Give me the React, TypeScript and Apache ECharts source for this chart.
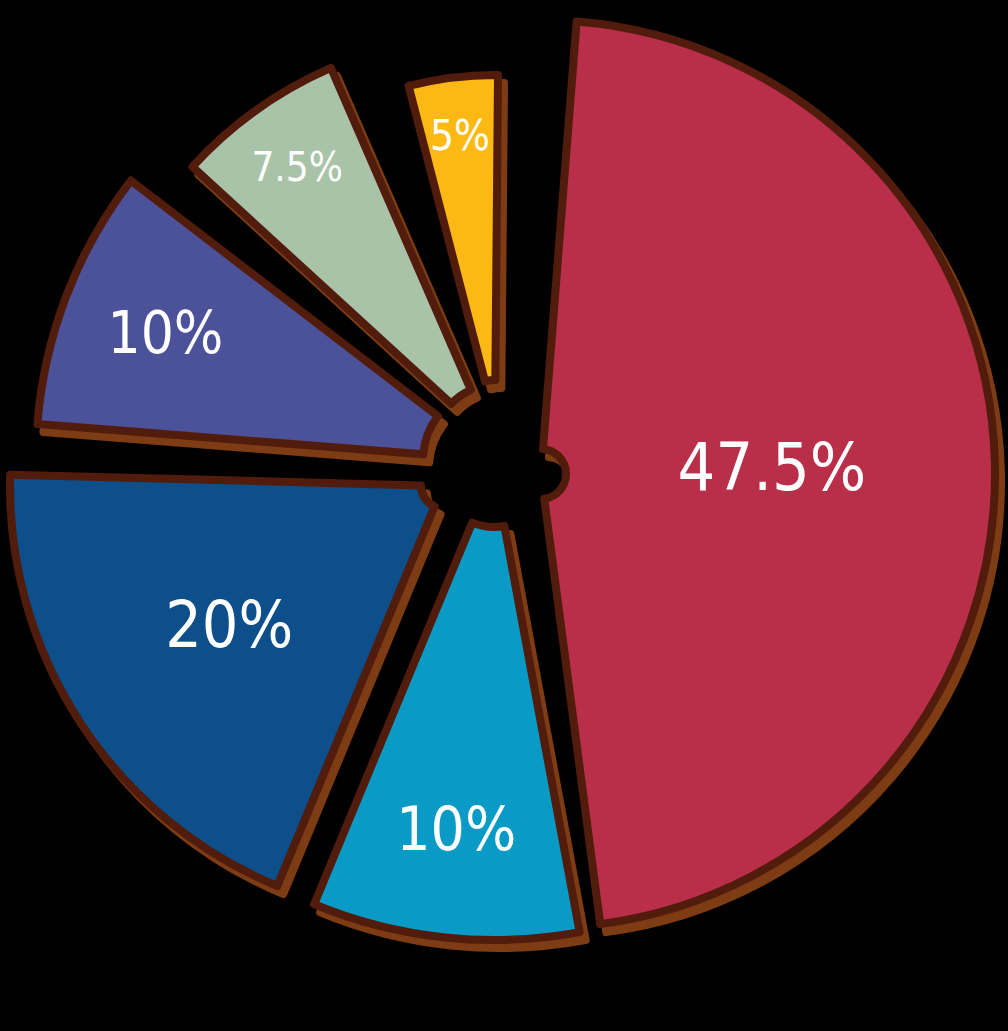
import React, { useEffect, useRef } from "react";
import * as echarts from "echarts";

// ---- data ----
const categories = ["Slice A", "Slice B", "Slice C", "Slice D", "Slice E", "Slice F"];
const values = [47.5, 10, 20, 10, 7.5, 5];
const colors = ["#B92E49", "#099BC5", "#0C4F8B", "#4C5299", "#A8C3A7", "#FDB913"];

// ---- hand-drawn look: per-slice apex, radii, small rotation tweak, label radius, font size ----
const sliceLayout = [
  { cx: 541, cy: 474, r0: 25, r: 454, rot: 1, lr: 228, fs: 66 },
  { cx: 494, cy: 470, r0: 57, r: 470, rot: -5, lr: 358, fs: 60 },
  { cx: 443, cy: 486, r0: 22, r: 433, rot: -8, lr: 252, fs: 64 },
  { cx: 495, cy: 460, r0: 72, r: 459, rot: -8, lr: 350, fs: 58 },
  { cx: 494, cy: 443, r0: 58, r: 409, rot: -6, lr: 336, fs: 40 },
  { cx: 495, cy: 420, r0: 40, r: 345, rot: 0, lr: 284, fs: 42 },
];

const START_ANGLE = 88;
const PAD_ANGLE = 3;
const STROKE = "#521C0C";
const SHADOW = "#7D3C14";
const SHADOW_DX = 6;
const SHADOW_DY = 8;
const FONT = "'DejaVu Sans Condensed', 'Liberation Sans', sans-serif";

const hidden = { color: "rgba(0,0,0,0)", borderWidth: 0 };

function buildSeries(): any[] {
  const shadows: any[] = [];
  const slices: any[] = [];
  const labelSeries: any[] = [];
  sliceLayout.forEach((L, i) => {
    const base = {
      type: "pie",
      silent: true,
      startAngle: START_ANGLE - L.rot,
      padAngle: PAD_ANGLE,
      clockwise: true,
      avoidLabelOverlap: false,
      labelLine: { show: false },
      emphasis: { disabled: true },
    };
    shadows.push({
      ...base,
      z: 1,
      center: [L.cx + SHADOW_DX, L.cy + SHADOW_DY],
      radius: [L.r0, L.r],
      label: { show: false },
      data: values.map((v, j) => ({
        name: categories[j],
        value: v,
        itemStyle:
          j === i
            ? { color: SHADOW, borderColor: SHADOW, borderWidth: 8, borderJoin: "round" }
            : hidden,
      })),
    });
    slices.push({
      ...base,
      z: 2,
      center: [L.cx, L.cy],
      radius: [L.r0, L.r],
      label: { show: false },
      data: values.map((v, j) => ({
        name: categories[j],
        value: v,
        itemStyle:
          j === i
            ? { color: colors[j], borderColor: STROKE, borderWidth: 8, borderJoin: "round" }
            : hidden,
      })),
    });
    labelSeries.push({
      ...base,
      z: 3,
      center: [L.cx, L.cy],
      radius: [Math.max(0, 2 * L.lr - L.r), L.r],
      data: values.map((v, j) => ({
        name: categories[j],
        value: v,
        itemStyle: hidden,
        label:
          j === i
            ? {
                show: true,
                position: "inside",
                formatter: "{c}%",
                color: "#FFFFFF",
                fontSize: L.fs,
                fontFamily: FONT,
                fontWeight: "normal",
              }
            : { show: false },
      })),
    });
  });
  return [...shadows, ...slices, ...labelSeries];
}

export default function App() {
  const ref = useRef<HTMLDivElement>(null);
  useEffect(() => {
    document.body.style.margin = "0";
    document.body.style.background = "#000";
    if (!ref.current) return;
    const chart = echarts.init(ref.current, null, { renderer: "svg" });
    chart.setOption({
      animation: false,
      backgroundColor: "#000000",
      tooltip: { show: false },
      series: buildSeries(),
    });
    return () => chart.dispose();
  }, []);
  return <div ref={ref} style={{ width: 1008, height: 1031, background: "#000" }} />;
}
